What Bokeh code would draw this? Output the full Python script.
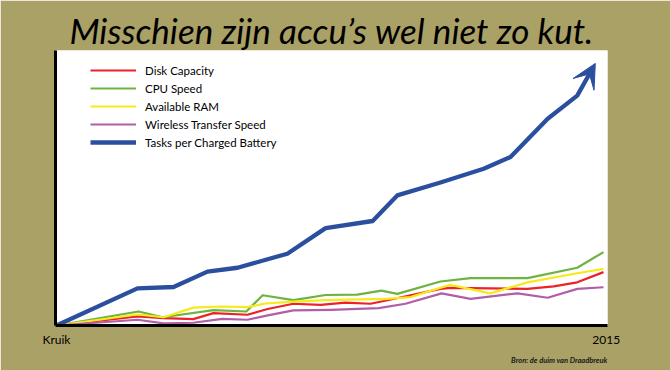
from bokeh.plotting import figure
from bokeh.models import Arrow, VeeHead, FixedTicker, Range1d, Title
from bokeh.embed import file_html
from bokeh.resources import INLINE

# ---- data (time in % from "Kruik" to 2015, performance index) ----
series_names = ["Disk Capacity", "CPU Speed", "Available RAM",
                "Wireless Transfer Speed", "Tasks per Charged Battery"]

red_t = [0, 14.8, 19.6, 25.0, 28.7, 34.9, 38.6, 43.3, 48.3, 52.8, 57.4, 60.3, 70.2, 72.0, 86.1, 90.9, 95.2, 100]
red_v = [0, 3.3, 2.7, 2.3, 4.5, 3.9, 6.0, 7.9, 7.5, 8.3, 7.9, 9.1, 13.3, 13.7, 13.3, 14.2, 15.7, 19.4]

green_t = [0, 15.0, 19.4, 28.7, 34.7, 37.7, 43.3, 49.2, 55.0, 59.4, 62.3, 70.2, 75.7, 86.1, 95.2, 100]
green_v = [0, 5.1, 3.0, 5.6, 5.1, 11.0, 9.2, 11.1, 11.2, 12.7, 11.5, 16.0, 17.2, 17.2, 21.0, 26.7]

yellow_t = [0, 14.8, 19.6, 25.0, 30.0, 34.9, 38.2, 43.3, 49.2, 57.4, 59.8, 64.7, 72.0, 79.3, 86.1, 95.2, 100]
yellow_v = [0, 4.0, 3.0, 6.5, 6.9, 6.7, 8.0, 8.7, 9.2, 9.6, 9.6, 10.3, 14.8, 11.7, 15.7, 19.0, 20.6]

purple_t = [0, 14.8, 19.6, 25.0, 30.3, 34.9, 38.4, 43.3, 50.1, 58.9, 63.8, 70.4, 75.7, 84.3, 89.8, 95.2, 100]
purple_v = [0, 2.1, 0.8, 1.0, 2.4, 2.1, 3.6, 5.5, 5.7, 6.3, 7.9, 11.7, 9.7, 11.7, 10.1, 13.3, 13.9]

blue_t = [0, 14.8, 21.4, 27.6, 33.1, 42.2, 49.2, 57.8, 62.3, 70.2, 78.1, 83.0, 89.8, 95.2, 98.5]
blue_v = [0, 13.5, 14.0, 19.6, 21.0, 26.1, 35.4, 38.0, 47.3, 52.0, 57.0, 61.3, 75.2, 83.6, 95.3]

x_ticks = [0, 100.5]
x_tick_labels = ["Kruik", "2015"]

title_text = "Misschien zijn accu\u2019s wel niet zo kut."
source_text = "Bron: de duim van Draadbreuk"

# ---- styling ----
OLIVE = "#aaa166"
FONT = "Lato"
colors = ["#ec2227", "#6db33f", "#f7ea1c", "#b15ea9", "#2b4f9f"]
widths = [2.2, 2.2, 2.2, 2.2, 4.3]

p = figure(width=670, height=370, output_backend="svg", toolbar_location=None,
           x_range=Range1d(-0.18, 100.73), y_range=Range1d(0, 100),
           min_border_left=55, min_border_right=63, min_border_top=50, min_border_bottom=45)
p.background_fill_color = "white"
p.border_fill_color = OLIVE
p.outline_line_color = None
p.xgrid.grid_line_color = None
p.ygrid.grid_line_color = None

p.title.text = title_text
p.title.align = "center"
p.title.text_font = FONT
p.title.text_font_style = "italic"
p.title.text_font_size = "35px"
p.title.text_color = "black"
p.title.standoff = 0

for ax in (p.xaxis[0], p.yaxis[0]):
    ax.axis_line_color = "black"
    ax.axis_line_width = 3
    ax.major_tick_line_color = None
    ax.minor_tick_line_color = None

p.yaxis[0].ticker = FixedTicker(ticks=[])
p.yaxis[0].major_label_text_font_size = "0px"

p.xaxis[0].ticker = FixedTicker(ticks=x_ticks)
p.xaxis[0].major_label_overrides = {t: s for t, s in zip(x_ticks, x_tick_labels)}
p.xaxis[0].major_label_text_font = FONT
p.xaxis[0].major_label_text_font_size = "12px"
p.xaxis[0].major_label_text_color = "black"
p.xaxis[0].major_label_standoff = 0

all_t = [red_t, green_t, yellow_t, purple_t, blue_t]
all_v = [red_v, green_v, yellow_v, purple_v, blue_v]

for i, (name, t, v, c, w) in enumerate(zip(series_names, all_t, all_v, colors, widths)):
    if i == 4:
        # stop the line a bit short of the tip so the arrow head forms the end
        xe = t[-1] - 0.25 * (t[-1] - t[-2])
        ye = v[-1] - 0.25 * (v[-1] - v[-2])
        t = t[:-1] + [xe]
        v = v[:-1] + [ye]
    p.line(t, v, line_color=c, line_width=w, line_join="round", legend_label=name)

p.add_layout(Arrow(end=VeeHead(size=24, fill_color=colors[4], line_color=colors[4], line_width=1),
                   x_start=blue_t[-2], y_start=blue_v[-2], x_end=blue_t[-1], y_end=blue_v[-1],
                   line_alpha=0, line_width=0))

leg = p.legend[0]
leg.location = (30, 169)
leg.padding = 5
leg.margin = 0
leg.spacing = 0
leg.label_height = 18
leg.glyph_height = 18
leg.glyph_width = 46
leg.label_standoff = 9
leg.label_text_font = FONT
leg.label_text_font_size = "11.5px"
leg.label_text_color = "black"
leg.border_line_alpha = 0
leg.background_fill_alpha = 0

p.add_layout(Title(text=source_text, align="right", text_font=FONT,
                   text_font_style="bold italic", text_font_size="7.5px",
                   text_color="#1a1a1a", standoff=9), "below")

open("out.html", "w").write(file_html(p, INLINE))
